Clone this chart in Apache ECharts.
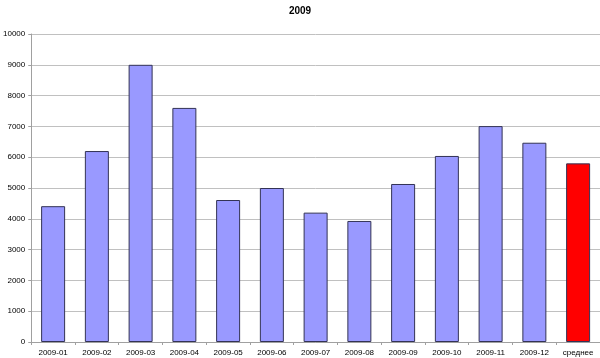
<!DOCTYPE html>
<html><head><meta charset="utf-8">
<script src="https://cdn.jsdelivr.net/npm/echarts@6/dist/echarts.min.js"></script>
<style>html,body{margin:0;padding:0;background:#fff}#c{width:600px;height:358px}</style>
</head><body><div id="c"></div>
<script>
const categories = ['2009-01','2009-02','2009-03','2009-04','2009-05','2009-06','2009-07','2009-08','2009-09','2009-10','2009-11','2009-12','среднее'];
const values = [4410,6200,9000,7600,4610,5000,4200,3930,5130,6040,7010,6470,5800];
const yTicks = {min:0, max:10000, interval:1000};
const chart = echarts.init(document.getElementById('c'));
chart.setOption({
  animation:false,
  title:{text:'2009', left:'center', top:1, textStyle:{fontFamily:'Liberation Sans, Arial', fontSize:10, fontWeight:'bold', color:'#000'}},
  grid:{left:30, right:0, top:34, bottom:16},
  xAxis:{type:'category', data:categories,
    axisLine:{lineStyle:{color:'#a0a0a0'}},
    axisTick:{show:true, length:3, lineStyle:{color:'#a0a0a0'}},
    axisLabel:{fontFamily:'Liberation Sans, Arial', fontSize:8, color:'#000', margin:7, interval:0}},
  yAxis:{type:'value', min:yTicks.min, max:yTicks.max, interval:yTicks.interval,
    axisLine:{show:true, lineStyle:{color:'#a0a0a0'}},
    axisTick:{show:true, length:3, lineStyle:{color:'#a0a0a0'}},
    splitLine:{lineStyle:{color:'#c0c0c0'}},
    axisLabel:{fontFamily:'Liberation Sans, Arial', fontSize:8, color:'#000', margin:6, formatter:v=>String(v)}},
  series:[{type:'bar', barWidth:24,
    data:values.map((v,i)=>({value:v, itemStyle:{color: i===values.length-1 ? '#ff0000' : '#9999ff'}})),
    itemStyle:{borderColor:'#333355', borderWidth:1}}]
});
</script></body></html>
